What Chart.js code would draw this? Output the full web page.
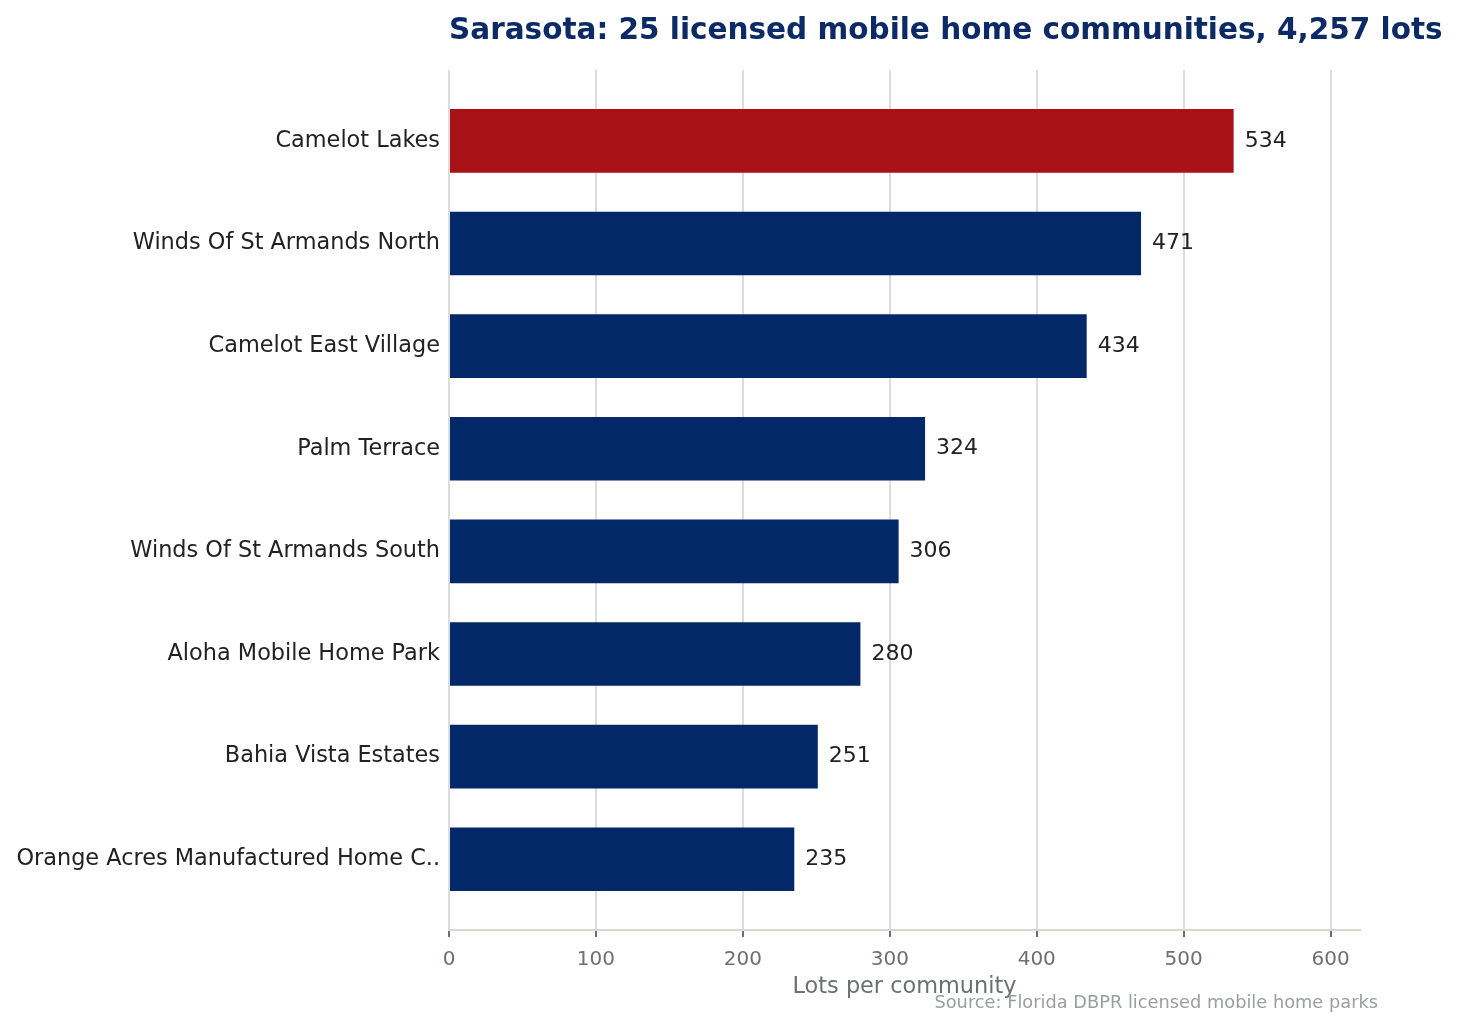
<!DOCTYPE html>
<html>
<head>
<meta charset="utf-8">
<script src="https://cdn.jsdelivr.net/npm/chart.js@4/dist/chart.umd.min.js"></script>
<style>
  html, body { margin: 0; padding: 0; background: #fff; }
  #wrap { width: 1459px; height: 1030px; position: relative; }
</style>
</head>
<body>
<div id="wrap"><canvas id="myChart"></canvas></div>
<script>
// Data
const communities = [
  'Camelot Lakes',
  'Winds Of St Armands North',
  'Camelot East Village',
  'Palm Terrace',
  'Winds Of St Armands South',
  'Aloha Mobile Home Park',
  'Bahia Vista Estates',
  'Orange Acres Manufactured Home C..'
];
const lots = [534, 471, 434, 324, 306, 280, 251, 235];
const xTicks = [0, 100, 200, 300, 400, 500, 600];

const NAVY = '#022868';
const RED = '#a81116';
const FONT = "'DejaVu Sans', sans-serif";

// title, value labels at bar ends, source note
const labelsPlugin = {
  id: 'labelsPlugin',
  afterDatasetsDraw(chart) {
    const c = chart.ctx;
    const meta = chart.getDatasetMeta(0);
    c.save();
    c.font = '22px ' + FONT;
    c.fillStyle = '#222222';
    c.textAlign = 'left';
    c.textBaseline = 'middle';
    meta.data.forEach((bar, i) => {
      c.fillText(String(lots[i]), bar.x + 11, bar.y);
    });
    c.restore();
  },
  afterDraw(chart) {
    const c = chart.ctx;
    c.save();
    c.font = 'bold 29.5px ' + FONT;
    c.fillStyle = '#0b2a66';
    c.textAlign = 'left';
    c.textBaseline = 'middle';
    c.fillText('Sarasota: 25 licensed mobile home communities, 4,257 lots', chart.chartArea.left, 31);

    c.font = '17.8px ' + FONT;
    c.fillStyle = '#999e9e';
    c.textAlign = 'right';
    c.fillText('Source: Florida DBPR licensed mobile home parks', 1378, 1003);
    c.restore();
  }
};

const ctx = document.getElementById('myChart').getContext('2d');
const myChart = new Chart(ctx, {
  type: 'bar',
  data: {
    datasets: [{
      data: lots.map((v, i) => ({ x: v, y: i })),
      backgroundColor: c => c.dataIndex === 0 ? RED : NAVY,
      borderWidth: 0,
      barPercentage: 0.62,
      categoryPercentage: 1
    }]
  },
  options: {
    indexAxis: 'y',
    responsive: true,
    maintainAspectRatio: false,
    animation: false,
    layout: { padding: { left: 0, right: 99, top: 70, bottom: 29 } },
    plugins: {
      legend: { display: false },
      tooltip: { enabled: false },
      title: { display: false }
    },
    scales: {
      x: {
        type: 'linear',
        min: 0,
        max: 620,
        afterBuildTicks: s => { s.ticks = xTicks.map(v => ({ value: v })); },
        ticks: {
          color: '#6b7070',
          font: { family: FONT, size: 20 },
          padding: 11
        },
        grid: {
          color: '#dcdcdc',
          lineWidth: 2,
          drawTicks: true,
          tickLength: 7,
          tickColor: '#6b7070'
        },
        border: { display: true, color: '#ddd8cf', width: 2 },
        title: {
          display: true,
          text: 'Lots per community',
          color: '#6b7070',
          font: { family: FONT, size: 22.4 },
          padding: { top: -9, bottom: 0 }
        }
      },
      y: {
        type: 'linear',
        min: -0.69,
        max: 7.69,
        offset: false,
        reverse: true,
        afterBuildTicks: s => { s.ticks = communities.map((_, i) => ({ value: i })); },
        afterFit: s => { s.width = 449; },
        ticks: {
          callback: v => communities[v],
          color: '#222222',
          font: { family: FONT, size: 22.4 },
          padding: 9
        },
        grid: { display: false, drawTicks: false, offset: false },
        border: { display: false }
      }
    }
  },
  plugins: [labelsPlugin]
});
</script>
</body>
</html>
